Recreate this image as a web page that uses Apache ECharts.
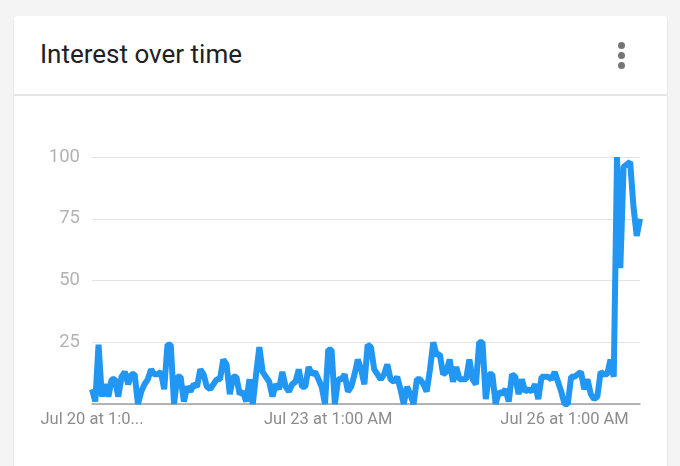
<!DOCTYPE html>
<html>
<head>
<meta charset="utf-8">
<script src="https://cdn.jsdelivr.net/npm/echarts@6/dist/echarts.min.js"></script>
<style>
  html, body { margin: 0; padding: 0; width: 680px; height: 466px; background: #f4f4f4; overflow: hidden; font-family: Roboto, "Noto Sans", sans-serif; }
  #card { position: absolute; left: 14px; top: 16px; width: 653px; height: 470px; background: #fff; border-radius: 4px; box-shadow: 0 1px 2px rgba(0,0,0,0.12); }
  #title { position: absolute; left: 26px; top: 23px; font-size: 26px; color: #212121; font-family: Roboto, sans-serif; }
  #divider { position: absolute; left: 0; right: 0; top: 78px; height: 2px; background: #e6e6e6; }
  .dot { position: absolute; left: 604px; width: 7px; height: 7px; border-radius: 50%; background: #757575; }
  #chart { position: absolute; left: 0; top: 0; width: 680px; height: 466px; }
</style>
</head>
<body>
<div id="card">
  <div id="title">Interest over time</div>
  <div class="dot" style="top:26px"></div>
  <div class="dot" style="top:36px"></div>
  <div class="dot" style="top:46px"></div>
  <div id="divider"></div>
</div>
<div id="chart"></div>
<script>
// Hourly values (Jul 20 1:00 AM onward)
const values = [
  6, 1, 24, 3, 8, 3, 10, 10, 3, 11, 13, 8, 12, 12, 0, 5, 8, 10, 14, 12,
  12, 13, 6, 24, 24, 0, 11, 11, 1, 7, 5, 8, 7, 14, 12, 7, 6, 8, 10, 10,
  18, 16, 4, 11, 11, 4, 5, 1, 10, 0, 12, 23, 13, 11, 9, 3, 8, 6, 13, 7,
  5, 8, 9, 14, 7, 7, 15, 12, 13, 10, 7, 0, 22, 22, 0, 10, 10, 12, 5, 7,
  12, 18, 14, 8, 24, 23, 14, 12, 10, 12, 16, 10, 9, 11, 6, 0, 7, 4, 0, 10,
  10, 8, 5, 14, 25, 20, 20, 12, 13, 18, 9, 15, 10, 10, 10, 18, 10, 8, 25, 25,
  2, 12, 12, 0, 5, 4, 6, 1, 12, 11, 4, 10, 5, 6, 5, 8, 2, 11, 11, 11,
  10, 13, 9, 5, 0, 0, 11, 11, 12, 13, 6, 10, 4, 2, 3, 13, 12, 12, 18, 11,
  100, 55, 96, 97, 98, 80, 68, 75
];

const tickIndices = [0, 72, 144];
const tickLabels = ['Jul 20 at 1:0...', 'Jul 23 at 1:00 AM', 'Jul 26 at 1:00 AM'];
const yTicks = [25, 50, 75, 100];

const categories = [];
for (let i = 0; i < values.length; i++) {
  const totalH = 1 + i;
  const day = 20 + Math.floor(totalH / 24);
  const h = totalH % 24;
  const h12 = h % 12 === 0 ? 12 : h % 12;
  categories.push('Jul ' + day + ' at ' + h12 + ':00 ' + (h < 12 ? 'AM' : 'PM'));
}

const chart = echarts.init(document.getElementById('chart'), null, { renderer: 'canvas' });
chart.setOption({
  animation: false,
  backgroundColor: 'transparent',
  grid: { left: 92, right: 40, top: 157, bottom: 62, containLabel: false },
  xAxis: {
    type: 'category',
    data: categories,
    boundaryGap: false,
    axisLine: { show: true, lineStyle: { color: '#9e9e9e', width: 1.5 } },
    axisTick: { show: false },
    splitLine: { show: false },
    axisLabel: {
      interval: function (idx) { return tickIndices.indexOf(idx) >= 0; },
      formatter: function (val, idx) { const k = tickIndices.indexOf(idx); return k >= 0 ? tickLabels[k] : ''; },
      color: '#8c8c8c',
      fontSize: 16.5,
      fontFamily: 'Roboto',
      margin: 7
    }
  },
  yAxis: {
    type: 'value',
    min: 0, max: 100, interval: 25,
    axisLine: { show: false },
    axisTick: { show: false },
    splitLine: { show: true, lineStyle: { color: '#e3e3e3', width: 1 } },
    axisLabel: {
      formatter: function (v) { return yTicks.indexOf(v) >= 0 ? String(v) : ''; },
      color: '#b3b3b3',
      fontSize: 18.5,
      fontFamily: 'Roboto',
      margin: 12
    }
  },
  series: [{
    type: 'line',
    data: values,
    showSymbol: false,
    symbol: 'none',
    lineStyle: { color: '#2196f3', width: 6 },
    clip: true
  }]
});
</script>
</body>
</html>
